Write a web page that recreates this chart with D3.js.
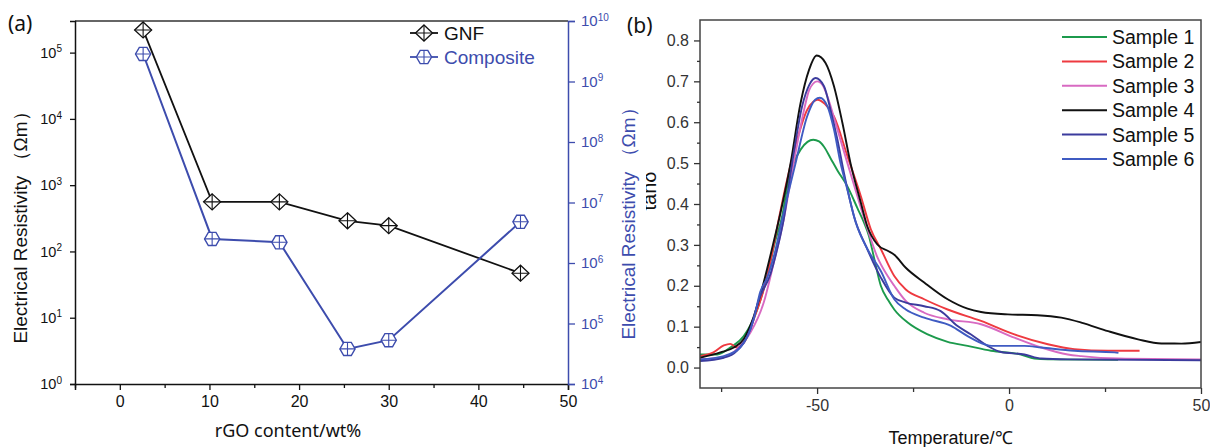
<!DOCTYPE html>
<html>
<head>
<meta charset="utf-8">
<script src="https://cdn.jsdelivr.net/npm/d3@7"></script>
<style>
  body { margin: 0; background: #fff; }
  svg { display: block; }
</style>
</head>
<body>
<svg id="fig" width="1210" height="447"></svg>
<script>
// ---------- Panel (a): resistivity vs rGO content ----------
const rgoContent = [2.6, 10.3, 17.8, 25.4, 30, 44.7];
const gnfResistivity = [2.2e5, 560, 560, 290, 245, 47];          // left axis, Ωm
const compositeResistivity = [2.85e9, 2.5e6, 2.2e6, 3.8e4, 5.3e4, 4.8e6]; // right axis, Ωm
const xTicksA = [0, 10, 20, 30, 40, 50];
const xMinorTicksA = [-5, 5, 15, 25, 35, 45];
const leftExponents = [0, 1, 2, 3, 4, 5];
const rightExponents = [4, 5, 6, 7, 8, 9, 10];
const seriesNamesA = ["GNF", "Composite"];

// ---------- Panel (b): tanδ vs temperature ----------
const sampleNames = ["Sample 1", "Sample 2", "Sample 3", "Sample 4", "Sample 5", "Sample 6"];
const sample1 = [[-80.5,0.032],[-76,0.032],[-72.6,0.049],[-69.1,0.077],[-65.6,0.142],[-63,0.224],[-60.8,0.313],[-59.1,0.37],[-57.6,0.452],[-56.1,0.5],[-54.3,0.533],[-52.5,0.552],[-51,0.557],[-49.5,0.553],[-48.2,0.540],[-46.5,0.512],[-44.7,0.482],[-42.1,0.443],[-39.5,0.39],[-37.8,0.355],[-36.5,0.322],[-35.2,0.27],[-33.4,0.2],[-31.5,0.165],[-29.9,0.142],[-26.4,0.11],[-21.2,0.081],[-16,0.063],[-10.8,0.053],[-4.7,0.041],[3.1,0.032],[6.6,0.022],[10.1,0.02],[28.4,0.019]];
const sample2 = [[-80.5,0.028],[-77,0.037],[-74.3,0.054],[-72.6,0.058],[-70.9,0.049],[-68.3,0.073],[-66.5,0.118],[-63.9,0.191],[-61.7,0.28],[-60,0.362],[-57.8,0.46],[-55.2,0.557],[-52.6,0.63],[-51,0.65],[-49.9,0.655],[-48,0.645],[-45.6,0.614],[-42.1,0.517],[-38.6,0.419],[-36,0.338],[-33.4,0.29],[-29.9,0.224],[-26.9,0.191],[-22.1,0.167],[-16,0.142],[-7.3,0.114],[1.4,0.081],[10.1,0.057],[17,0.045],[25.8,0.041],[34,0.041]];
const sample3 = [[-80.5,0.02],[-73.4,0.028],[-70.9,0.045],[-67.4,0.085],[-63.9,0.159],[-61.3,0.256],[-58.7,0.362],[-56.1,0.5],[-53.4,0.63],[-52,0.68],[-50,0.70],[-48.5,0.69],[-47.3,0.663],[-44.7,0.582],[-42.1,0.5],[-39.5,0.419],[-36.9,0.34],[-34.3,0.27],[-31.7,0.225],[-29.9,0.2],[-26.9,0.163],[-22.1,0.134],[-16,0.118],[-7.3,0.106],[1.4,0.073],[8.4,0.049],[15.3,0.032],[18.8,0.028],[28.4,0.022],[50,0.02]];
const sample4 = [[-80.5,0.024],[-75.2,0.037],[-71.7,0.049],[-69.1,0.07],[-66.5,0.125],[-64,0.205],[-61.5,0.3],[-59.5,0.38],[-56.9,0.5],[-54.3,0.647],[-52.1,0.728],[-50.1,0.763],[-47.8,0.745],[-45.6,0.688],[-43.4,0.598],[-41.3,0.5],[-38.6,0.403],[-36.9,0.345],[-34.3,0.301],[-31.5,0.285],[-29.9,0.276],[-26.9,0.244],[-22.1,0.208],[-16,0.167],[-10.8,0.144],[-7.3,0.136],[-0.3,0.130],[7.4,0.128],[13.6,0.122],[18.8,0.11],[25.8,0.089],[33.6,0.069],[39.7,0.059],[44.9,0.0586],[50,0.0625]];
const sample5 = [[-80.5,0.016],[-74.3,0.024],[-70.9,0.041],[-67.4,0.094],[-65.2,0.165],[-62.1,0.23],[-60,0.305],[-58.7,0.362],[-56.5,0.5],[-53.9,0.639],[-52,0.692],[-50.4,0.708],[-48.2,0.688],[-46.5,0.63],[-44.7,0.557],[-43,0.476],[-40.4,0.37],[-36.9,0.289],[-33.4,0.22],[-29.9,0.171],[-26.9,0.159],[-22.1,0.15],[-17.8,0.138],[-13.5,0.102],[-9.9,0.081],[-5.6,0.053],[-2.1,0.038],[4,0.032],[8.4,0.022],[15.3,0.02],[50,0.018]];
const sample6 = [[-80.5,0.02],[-74.3,0.028],[-70,0.049],[-66.5,0.118],[-64.8,0.185],[-63,0.22],[-60.8,0.289],[-59.1,0.362],[-55.6,0.5],[-52.6,0.614],[-50.5,0.655],[-49.3,0.66],[-47.3,0.639],[-45.6,0.582],[-43.9,0.5],[-42.1,0.435],[-39.9,0.354],[-36.9,0.29],[-33.4,0.236],[-29.9,0.167],[-26.9,0.142],[-22.1,0.122],[-15.1,0.102],[-10.8,0.077],[-6.4,0.057],[-4.5,0.053],[4,0.053],[8.4,0.049],[17,0.041],[27.5,0.037],[28.5,0.036]];
const sampleColors = ["#1c9a4c", "#ee3a40", "#d86ac2", "#111111", "#3b3b9d", "#3f5bc2"];
const xTicksB = [-50, 0, 50];
const xMinorTicksB = [-75, -25, 25];
const yTicksB = [0, 0.1, 0.2, 0.3, 0.4, 0.5, 0.6, 0.7, 0.8];
const yMinorTicksB = [0.05, 0.15, 0.25, 0.35, 0.45, 0.55, 0.65, 0.75];

const FONT = '"Liberation Sans", Arimo, Arial, sans-serif';
const svg = d3.select("#fig");
const blueA = "#3d4cad";

// ================= Panel (a) =================
const xA = d3.scaleLinear([-5, 50], [75, 568]);
const yL = d3.scaleLog([1, 3e5], [384, 21]);
const yR = d3.scaleLog([1e4, 1e10], [384, 21]);

function styleAxis(g, color, size) {
  g.attr("font-family", FONT);
  g.selectAll("path.domain").attr("stroke", color).attr("stroke-width", 1.5);
  g.selectAll(".tick line").attr("stroke", color).attr("stroke-width", 1.3);
  g.selectAll(".tick text").attr("fill", color).attr("font-family", FONT).attr("font-size", size);
}

function powerLabels(g, supSize) {
  g.selectAll(".tick text").text(null).each(function (d) {
    const t = d3.select(this);
    t.append("tspan").text("10");
    t.append("tspan").attr("dy", "-0.55em").attr("font-size", supSize).text(Math.round(Math.log10(d)));
  });
}

// top border
svg.append("line").attr("x1", xA(-5)).attr("x2", xA(50)).attr("y1", yL(3e5)).attr("y2", yL(3e5))
  .attr("stroke", "#333").attr("stroke-width", 1.5);

const gxA = svg.append("g").attr("transform", `translate(0,${yL(1)})`)
  .call(d3.axisBottom(xA).tickValues(xTicksA).tickSize(6).tickPadding(6).tickFormat(d3.format("d")));
styleAxis(gxA, "#111", 16);
const gxAm = svg.append("g").attr("transform", `translate(0,${yL(1)})`)
  .call(d3.axisBottom(xA).tickValues(xMinorTicksA).tickSize(4).tickFormat(""));
styleAxis(gxAm, "#111", 16);
gxAm.select("path.domain").remove();

const gyL = svg.append("g").attr("transform", `translate(${xA(-5)},0)`)
  .call(d3.axisLeft(yL).tickValues(leftExponents.map(e => 10 ** e)).tickSize(5).tickPadding(8));
styleAxis(gyL, "#111", 14.5);
powerLabels(gyL, 10);

const gyR = svg.append("g").attr("transform", `translate(${xA(50)},0)`)
  .call(d3.axisRight(yR).tickValues(rightExponents.map(e => 10 ** e)).tickSize(7).tickPadding(6));
styleAxis(gyR, blueA, 15);
powerLabels(gyR, 10);

// series lines
const gnfPts = rgoContent.map((x, i) => ({ x, y: gnfResistivity[i] }));
const compPts = rgoContent.map((x, i) => ({ x, y: compositeResistivity[i] }));
svg.append("path").datum(gnfPts).attr("fill", "none").attr("stroke", "#111").attr("stroke-width", 1.8)
  .attr("d", d3.line().x(d => xA(d.x)).y(d => yL(d.y)));
svg.append("path").datum(compPts).attr("fill", "none").attr("stroke", blueA).attr("stroke-width", 2)
  .attr("d", d3.line().x(d => xA(d.x)).y(d => yR(d.y)));

// markers
function diamond(g, cx, cy) {
  const w = 8.5, h = 8;
  g.append("path").attr("transform", `translate(${cx},${cy})`)
    .attr("d", `M0,${-h}L${w},0L0,${h}L${-w},0Z`)
    .attr("fill", "#fff").attr("stroke", "#111").attr("stroke-width", 1.3);
  g.append("path").attr("transform", `translate(${cx},${cy})`)
    .attr("d", `M${-w},0H${w}M0,${-h}V${h}`)
    .attr("stroke", "#111").attr("stroke-width", 1.1);
}
function hexagon(g, cx, cy) {
  const r = 7.6;
  const pts = d3.range(6).map(k => {
    const a = Math.PI / 3 * k;
    return [r * Math.cos(a), r * Math.sin(a)];
  });
  g.append("path").attr("transform", `translate(${cx},${cy})`)
    .attr("d", "M" + pts.map(p => p.join(",")).join("L") + "Z")
    .attr("fill", "#fff").attr("stroke", blueA).attr("stroke-width", 1.4);
  const v = r * Math.sin(Math.PI / 3);
  g.append("path").attr("transform", `translate(${cx},${cy})`)
    .attr("d", `M${-r},0H${r}M0,${-v}V${v}`)
    .attr("stroke", blueA).attr("stroke-width", 1.1);
}
const mk = svg.append("g");
compPts.forEach(d => hexagon(mk, xA(d.x), yR(d.y)));
gnfPts.forEach(d => diamond(mk, xA(d.x), yL(d.y)));

// legend (a)
const legA = svg.append("g");
[[seriesNamesA[0], "#111", diamond, 33], [seriesNamesA[1], blueA, hexagon, 57]].forEach(([name, col, fn, y]) => {
  legA.append("line").attr("x1", 410).attr("x2", 438).attr("y1", y).attr("y2", y)
    .attr("stroke", col).attr("stroke-width", 1.8);
  fn(legA, 424, y);
  legA.append("text").attr("x", 444).attr("y", y).attr("dy", "0.36em")
    .attr("font-family", FONT).attr("font-size", 19).attr("fill", col).text(name);
});

// titles (a)
svg.append("text").attr("x", 8).attr("y", 31).attr("font-family", '"Noto Sans", sans-serif')
  .attr("font-size", 21).attr("fill", "#111").text("(a)");
svg.append("text").attr("transform", "translate(20,223) rotate(-90)").attr("text-anchor", "middle")
  .attr("dy", "0.36em").attr("font-family", FONT).attr("font-size", 19).attr("fill", "#111")
  .text("Electrical Resistivity （Ωm）");
svg.append("text").attr("transform", "translate(628,219) rotate(-90)").attr("text-anchor", "middle")
  .attr("dy", "0.36em").attr("font-family", FONT).attr("font-size", 19).attr("fill", blueA)
  .text("Electrical Resistivity （Ωm）");
svg.append("text").attr("x", 288).attr("y", 437).attr("text-anchor", "middle")
  .attr("font-family", '"Noto Sans", sans-serif').attr("font-size", 18).attr("fill", "#111")
  .text("rGO content/wt%");

// ================= Panel (b) =================
const xB = d3.scaleLinear([-80.5, 50], [700, 1201]);
const yB = d3.scaleLinear([-0.05, 0.85], [388, 20]);

svg.append("clipPath").attr("id", "plotB").append("rect")
  .attr("x", xB(-80.5)).attr("y", yB(0.85)).attr("width", xB(50) - xB(-80.5)).attr("height", yB(-0.05) - yB(0.85));

const curves = svg.append("g").attr("clip-path", "url(#plotB)");
const lineB = d3.line().x(d => xB(d[0])).y(d => yB(d[1])).curve(d3.curveMonotoneX);
[sample1, sample2, sample3, sample4, sample5, sample6].forEach((s, i) => {
  curves.append("path").datum(s).attr("fill", "none").attr("stroke", sampleColors[i])
    .attr("stroke-width", 1.9).attr("stroke-linejoin", "round").attr("d", lineB);
});

svg.append("rect").attr("x", xB(-80.5)).attr("y", yB(0.85))
  .attr("width", xB(50) - xB(-80.5)).attr("height", yB(-0.05) - yB(0.85))
  .attr("fill", "none").attr("stroke", "#444").attr("stroke-width", 1.5);

const gxB = svg.append("g").attr("transform", `translate(0,${yB(-0.05)})`)
  .call(d3.axisBottom(xB).tickValues(xTicksB).tickSize(6).tickPadding(6).tickFormat(d => String(d)));
styleAxis(gxB, "#333", 16);
gxB.select("path.domain").remove();
const gxBm = svg.append("g").attr("transform", `translate(0,${yB(-0.05)})`)
  .call(d3.axisBottom(xB).tickValues(xMinorTicksB).tickSize(4).tickFormat(""));
styleAxis(gxBm, "#333", 16);
gxBm.select("path.domain").remove();

const gyB = svg.append("g").attr("transform", `translate(${xB(-80.5)},0)`)
  .call(d3.axisLeft(yB).tickValues(yTicksB).tickSize(6).tickPadding(5).tickFormat(d3.format(".1f")));
styleAxis(gyB, "#333", 16);
gyB.select("path.domain").remove();
const gyBm = svg.append("g").attr("transform", `translate(${xB(-80.5)},0)`)
  .call(d3.axisLeft(yB).tickValues(yMinorTicksB).tickSize(3).tickFormat(""));
styleAxis(gyBm, "#333", 16);
gyBm.select("path.domain").remove();

// legend (b)
const legB = svg.append("g");
sampleNames.forEach((name, i) => {
  const y = 37 + i * 24.4;
  legB.append("line").attr("x1", 1062).attr("x2", 1107).attr("y1", y).attr("y2", y)
    .attr("stroke", sampleColors[i]).attr("stroke-width", 2);
  legB.append("text").attr("x", 1112).attr("y", y).attr("dy", "0.36em")
    .attr("font-family", FONT).attr("font-size", 19.5).attr("fill", "#111").text(name);
});

// titles (b); the y-axis name sits partly under the neighbouring title
svg.append("text").attr("x", 627).attr("y", 33).attr("font-family", '"Noto Sans", sans-serif')
  .attr("font-size", 21).attr("fill", "#111").text("(b)");
svg.append("clipPath").attr("id", "tanClip").append("rect")
  .attr("x", 646).attr("y", 150).attr("width", 20).attr("height", 90);
svg.append("g").attr("clip-path", "url(#tanClip)")
  .append("text")
  .attr("transform", "translate(656,191) rotate(-90)").attr("text-anchor", "middle")
  .attr("font-family", FONT).attr("font-size", 20).attr("fill", "#111").text("tanδ");
svg.append("text").attr("x", (xB(-80.5) + xB(50)) / 2).attr("y", 444).attr("text-anchor", "middle")
  .attr("font-family", FONT).attr("font-size", 18).attr("fill", "#111").text("Temperature/℃");
</script>
</body>
</html>
